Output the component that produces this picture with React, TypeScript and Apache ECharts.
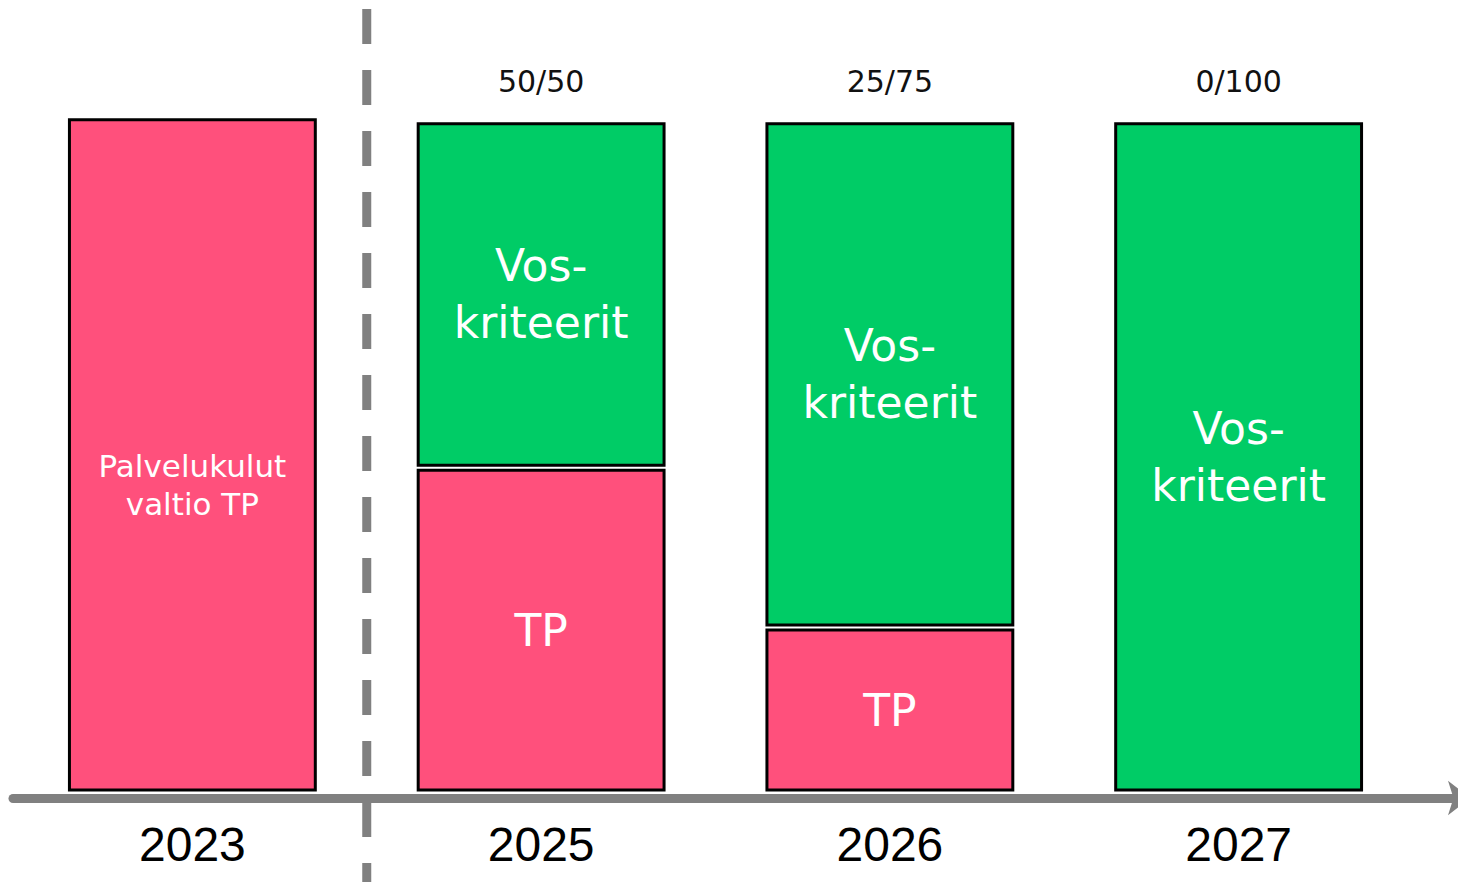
import React, { useEffect, useRef } from "react";
import * as echarts from "echarts";

const years = ["2023", "2025", "2026", "2027"];
const tpValues = [100.6, 48, 24, 0];
const vosValues = [0, 52, 76, 100];
const ratioLabels = ["", "50/50", "25/75", "0/100"];
const tpLabels = ["Palvelukulut\nvaltio TP", "TP", "TP", ""];
const vosLabels = ["", "Vos-\nkriteerit", "Vos-\nkriteerit", "Vos-\nkriteerit"];

const PINK = "#FF507C";
const GREEN = "#00CC66";
const GRAY = "#808080";
const FONT = "DejaVu Sans";

export default function App() {
  const ref = useRef<HTMLDivElement>(null);

  useEffect(() => {
    if (!ref.current) return;
    const chart = echarts.init(ref.current, null, { renderer: "svg" });

    const tpData = years
      .map((_, i) => [i, 0, tpValues[i]])
      .filter((d) => d[2] > 0);
    const vosData = years
      .map((_, i) => [i, tpValues[i], tpValues[i] + vosValues[i]])
      .filter((d) => d[2] - d[1] > 0);

    const makeRender = (kind: "tp" | "vos") => (params: any, api: any) => {
      const i = api.value(0);
      const lo = api.value(1);
      const hi = api.value(2);
      const base = api.coord([i, lo]);
      const top = api.coord([i, hi]);
      const w = api.size([1, 0])[0] * 0.705;
      const gap = lo > 0 ? 5 : 0;
      const h = base[1] - top[1] - gap;
      const isBig = kind === "tp" && i === 0;
      const text = kind === "tp" ? tpLabels[i] : vosLabels[i];
      const children: any[] = [
        {
          type: "rect",
          shape: { x: base[0] - w / 2, y: top[1], width: w, height: h },
          style: { fill: kind === "tp" ? PINK : GREEN, stroke: "#000", lineWidth: 3 },
          textContent: {
            style: {
              text,
              fill: "#fff",
              fontSize: isBig ? 31 : 44,
              lineHeight: isBig ? 38 : 57,
              fontFamily: FONT,
              align: "center",
              verticalAlign: "middle",
            },
          },
          textConfig: { position: "inside", offset: isBig ? [0, 30] : [0, 0] },
        },
      ];
      if (kind === "vos" && ratioLabels[i]) {
        children.push({
          type: "text",
          x: base[0],
          y: top[1] - 42,
          style: {
            text: ratioLabels[i],
            fill: "#111",
            fontSize: 30,
            fontFamily: FONT,
            align: "center",
            verticalAlign: "middle",
          },
        });
      }
      return { type: "group", children };
    };

    chart.setOption({
      animation: false,
      grid: [
        { left: 18, right: 53, top: 57, bottom: 100 },
        { left: 13, right: 0, top: 0, bottom: 92 },
      ],
      xAxis: [
        {
          type: "category",
          gridIndex: 0,
          data: years,
          axisLine: { show: false },
          axisTick: { show: false },
          axisLabel: {
            fontSize: 48,
            color: "#000",
            margin: 30,
            fontFamily: "Liberation Sans",
          },
        },
        {
          type: "value",
          gridIndex: 1,
          min: 0,
          max: 1,
          axisLine: {
            show: true,
            symbol: ["none", "arrow"],
            symbolSize: [26, 22],
            symbolOffset: [0, 4],
            lineStyle: { color: GRAY, width: 9 },
          },
          axisTick: { show: false },
          axisLabel: { show: false },
          splitLine: { show: false },
        },
      ],
      yAxis: [
        { type: "value", gridIndex: 0, min: 0, max: 110, show: false },
        { type: "value", gridIndex: 1, min: 0, max: 1, show: false },
      ],
      series: [
        {
          type: "custom",
          name: "TP",
          xAxisIndex: 0,
          yAxisIndex: 0,
          renderItem: makeRender("tp"),
          encode: { x: 0, y: [1, 2] },
          data: tpData,
          z: 2,
        },
        {
          type: "custom",
          name: "Vos-kriteerit",
          xAxisIndex: 0,
          yAxisIndex: 0,
          renderItem: makeRender("vos"),
          encode: { x: 0, y: [1, 2] },
          data: vosData,
          z: 2,
        },
      ],
    });

    const x0 = chart.convertToPixel({ xAxisIndex: 0 }, years[0]) as number;
    const x1 = chart.convertToPixel({ xAxisIndex: 0 }, years[1]) as number;
    const xm = (x0 + x1) / 2;
    chart.setOption({
      graphic: [
        {
          type: "line",
          z: 0,
          shape: { x1: xm, y1: 9, x2: xm, y2: 890 },
          style: { stroke: GRAY, lineWidth: 9, lineDash: [35, 26] },
        },
      ],
    });

    return () => chart.dispose();
  }, []);

  return <div ref={ref} style={{ width: 1466, height: 890, margin: -8 }} />;
}
